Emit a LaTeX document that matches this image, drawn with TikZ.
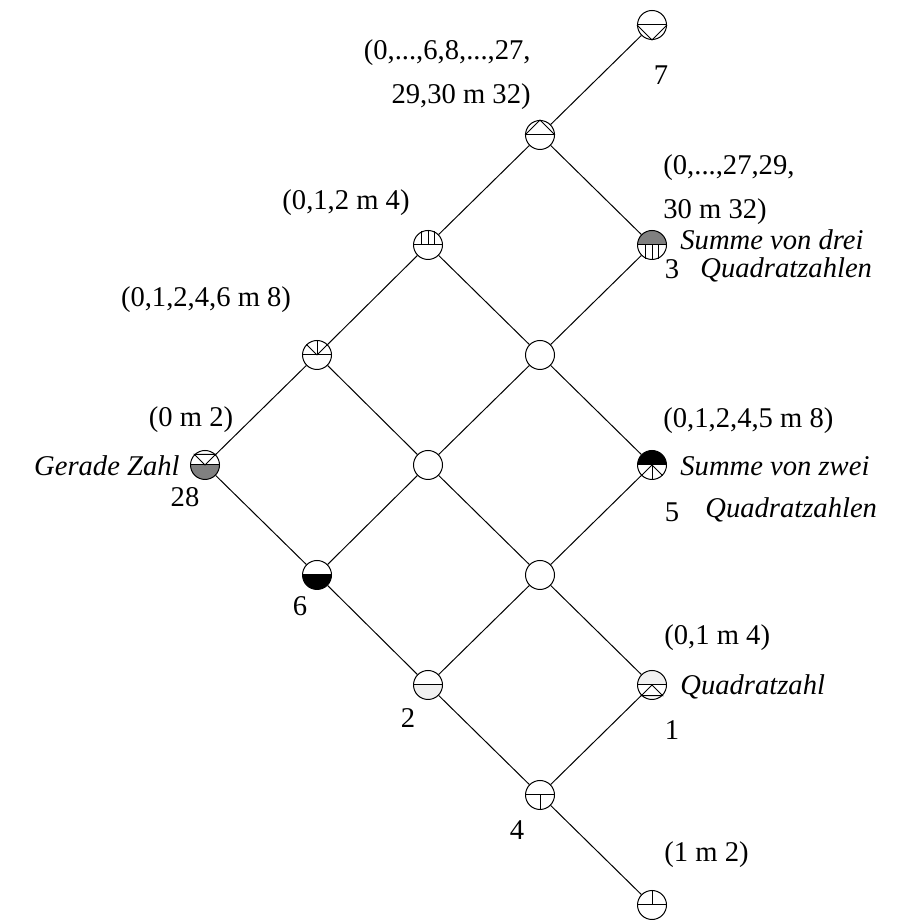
\documentclass[tikz,border=0pt]{standalone}
\usepackage{fontspec}
\setmainfont{Liberation Serif}

\begin{document}
\begin{tikzpicture}[
  x=0.5pt, y=0.5pt,
  every node/.style={font=\fontsize{14.3}{22}\selectfont},
  knot/.style={circle, draw, line width=0.5pt, minimum size=14.5pt, inner sep=0pt},
  upfill/.style={path picture={\fill[#1] (path picture bounding box.west) rectangle (path picture bounding box.north east);}},
  lowfill/.style={path picture={\fill[#1] (path picture bounding box.west) rectangle (path picture bounding box.south east);}},
  lbl/.style={inner sep=0pt},
  prop/.style={inner sep=0pt, font=\fontsize{14.3}{22}\selectfont\itshape},
  link/.style={line width=0.5pt}
]
\useasboundingbox (0,0) rectangle (907,920);

% Knoten
\node[knot] (n7) at (652,895) {};
\node[knot] (m32) at (540,785) {};
\node[knot] (m4) at (428,675) {};
\node[knot, upfill=gray] (n3) at (652,675) {};
\node[knot] (m8) at (317,565) {};
\node[knot] (e1) at (540,565) {};
\node[knot, lowfill=gray] (n28) at (205,455) {};
\node[knot] (e2) at (428,455) {};
\node[knot, upfill=black] (n5) at (652,455) {};
\node[knot, lowfill=black] (n6) at (317,345) {};
\node[knot] (e3) at (540,345) {};
\node[knot, lowfill=gray!12] (n2) at (428,235) {};
\node[knot, upfill=gray!12] (n1) at (652,235) {};
\node[knot] (n4) at (540,125) {};
\node[knot] (odd) at (652,15) {};

% Muster in den Knoten
\foreach \k in {n7,m32,m4,n3,m8,n28,n5,n6,n2,n1,n4,odd}
  \draw[link] (\k.west) -- (\k.east);
\draw[link] (n7.west) -- (n7.south) -- (n7.east);
\draw[link] (m32.west) -- (m32.north) -- (m32.east);
\draw[link] (n28.center) -- (n28.135) -- (n28.45) -- cycle;
\draw[link] (n1.center) -- (n1.225) -- (n1.315) -- cycle;
\foreach \a in {66,90,114}
  \draw[link] (m4.\a) -- (m4.\a |- m4.center);
\foreach \a in {246,270,294}
  \draw[link] (n3.\a) -- (n3.\a |- n3.center);
\foreach \a in {45,90,135}
  \draw[link] (m8.center) -- (m8.\a);
\foreach \a in {225,270,315}
  \draw[link] (n5.center) -- (n5.\a);
\draw[link] (n4.center) -- (n4.south);
\draw[link] (odd.center) -- (odd.north);

% Kanten
\draw[link] (n7) -- (m32);
\draw[link] (m32) -- (m4);
\draw[link] (m32) -- (n3);
\draw[link] (m4) -- (m8);
\draw[link] (m4) -- (e1);
\draw[link] (n3) -- (e1);
\draw[link] (m8) -- (n28);
\draw[link] (m8) -- (e2);
\draw[link] (e1) -- (e2);
\draw[link] (e1) -- (n5);
\draw[link] (n28) -- (n6);
\draw[link] (e2) -- (n6);
\draw[link] (e2) -- (e3);
\draw[link] (n5) -- (e3);
\draw[link] (n6) -- (n2);
\draw[link] (e3) -- (n2);
\draw[link] (e3) -- (n1);
\draw[link] (n2) -- (n4);
\draw[link] (n1) -- (n4);
\draw[link] (n4) -- (odd);

% Beschriftungen
\node[lbl, anchor=east, align=right] (t32) at (531,845) {(0,...,6,8,...,27,\\29,30 m 32)};
\node[lbl] (t7) at (661,845) {7};
\node[lbl, anchor=west, align=left] (t3m) at (663,730) {(0,...,27,29,\\30 m 32)};
\node[prop, anchor=west] (t3a) at (680,680) {Summe von drei};
\node[lbl] (t3) at (672,651) {3};
\node[prop, anchor=west] (t3b) at (700,650) {Quadratzahlen};
\node[lbl] (t4) at (346,717) {(0,1,2 m 4)};
\node[lbl] (t8) at (206,620) {(0,1,2,4,6 m 8)};
\node[lbl] (t2m) at (191,500) {(0 m 2)};
\node[prop, anchor=east] (tg) at (180,454) {Gerade Zahl};
\node[lbl] (t28) at (185,423) {28};
\node[lbl, anchor=west] (t5m) at (663,499) {(0,1,2,4,5 m 8)};
\node[prop, anchor=west] (t5a) at (680,454) {Summe von zwei};
\node[lbl] (t5) at (672,408) {5};
\node[prop, anchor=west] (t5b) at (705,410) {Quadratzahlen};
\node[lbl] (t6) at (300,314) {6};
\node[lbl, anchor=west] (t1m) at (664,282) {(0,1 m 4)};
\node[prop, anchor=west] (tq) at (680,233) {Quadratzahl};
\node[lbl] (t2) at (408,202) {2};
\node[lbl] (t1) at (672,190) {1};
\node[lbl] (t4n) at (517,90) {4};
\node[lbl, anchor=west] (todd) at (664,65) {(1 m 2)};
\end{tikzpicture}
\end{document}
